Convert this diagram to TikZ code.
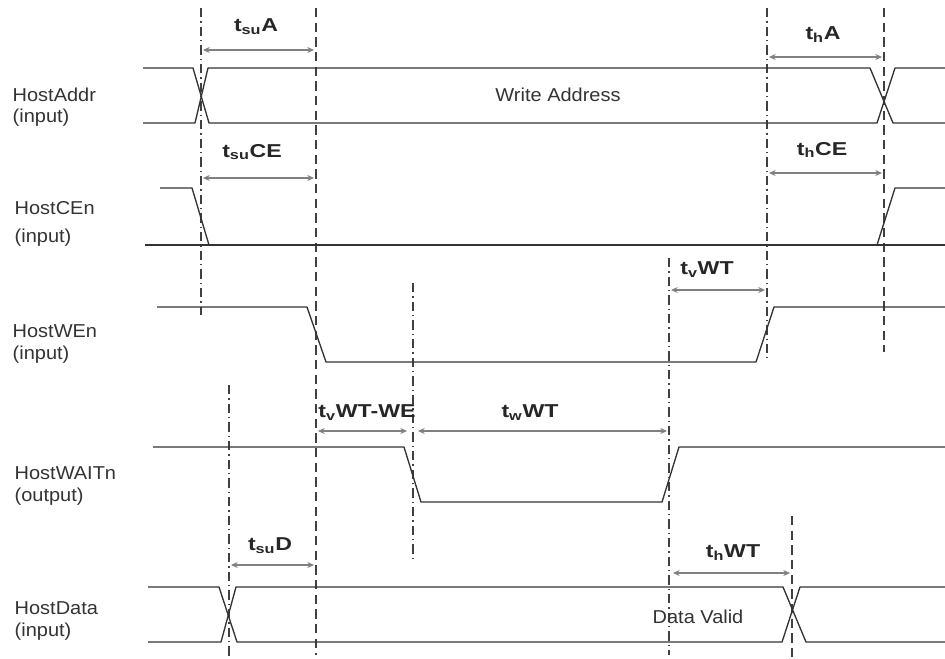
\documentclass[tikz,border=0pt]{standalone}
\usepackage{fontspec}
\setmainfont{Liberation Sans}[FakeStretch=1.07]
\newfontfamily\timefont{Liberation Sans}[FakeStretch=1.24]
\usetikzlibrary{arrows.meta}

\begin{document}
\begin{tikzpicture}[x=0.75pt,y=-0.75pt,>=Stealth,line join=round]
        \tikzstyle{sig}=[draw=black!80,line width=1pt]
        \tikzstyle{guide}=[draw=black!75,line width=1pt,dash pattern=on 7pt off 4pt]
        \tikzstyle{guidedot}=[guide,dash pattern=on 7pt off 3pt on 1pt off 3pt]
        \tikzstyle{dim}=[draw=black!50,line width=1.1pt,{Stealth[length=5pt,width=4.5pt]}-{Stealth[length=5pt,width=4.5pt]}]
        \tikzstyle{tlabel}=[font=\timefont\fontsize{14}{16}\selectfont\bfseries,text=black!85]
        \tikzstyle{siglabel}=[anchor=west,align=left,font=\fontsize{14}{16}\selectfont,text=black!80]
        \useasboundingbox (0,0) rectangle (945,659);
        % signal names
        \node[siglabel] (addr) at (8,107) {HostAddr\\(input)};
        \node[siglabel] (cen) at (10,224) {HostCEn\\[5pt](input)};
        \node[siglabel] (wen) at (8,344) {HostWEn\\[1pt](input)};
        \node[siglabel] (wait) at (10,486) {HostWAITn\\(output)};
        \node[siglabel] (data) at (10,621) {HostData\\(input)};
        % guide lines
        \draw[guidedot] (201,8) -- (201,315);
        \draw[guide] (316,8) -- (316,655);
        \draw[guidedot] (767,8) -- (767,358);
        \draw[guide] (884,8) -- (884,352);
        \draw[guidedot] (413,283) -- (413,560);
        \draw[guidedot] (229,385) -- (229,659);
        \draw[guidedot] (669,258) -- (669,655);
        \draw[guide] (792,516) -- (792,659);
        % HostAddr
        \draw[sig] (143,68) -- (193,68) -- (209,123) -- (877,123) -- (895,68) -- (945,68);
        \draw[sig] (143,123) -- (195,123) -- (208,68) -- (870,68) -- (893,123) -- (945,123);
        \node[font=\fontsize{14}{16}\selectfont,text=black!80] (wa) at (558,95) {Write Address};
        % HostCEn
        \draw[sig] (160,188) -- (192,188) -- (209,245);
        \draw[sig] (145,245) -- (945,245);
        \draw[sig] (877,245) -- (895,188) -- (945,188);
        % HostWEn
        \draw[sig] (157,307) -- (307,307) -- (326,362) -- (756,362) -- (774,307) -- (945,307);
        % HostWAITn
        \draw[sig] (153,447) -- (404,447) -- (421,502) -- (662,502) -- (679,447) -- (945,447);
        % HostData
        \draw[sig] (148,587) -- (219,587) -- (237,642) -- (782,642) -- (800,587) -- (945,587);
        \draw[sig] (148,642) -- (221,642) -- (236,587) -- (783,587) -- (806,642) -- (945,642);
        \node[font=\fontsize{14}{16}\selectfont,text=black!80] (dv) at (698,617) {Data Valid};
        % timing
        \draw[dim] (203,50) -- (314,50);
        \node[tlabel] (tsua) at (256,27) {t\textsubscript{su}A};
        \draw[dim] (203,178) -- (314,178);
        \node[tlabel] (tsuce) at (252,152) {t\textsubscript{su}CE};
        \draw[dim] (769,57) -- (882,57);
        \node[tlabel] (tha) at (823,35) {t\textsubscript{h}A};
        \draw[dim] (769,173) -- (882,173);
        \node[tlabel] (thce) at (822,150) {t\textsubscript{h}CE};
        \draw[dim] (671,290) -- (765,290);
        \node[tlabel] (tvwt) at (707,270) {t\textsubscript{v}WT};
        \draw[dim] (318,431) -- (407,431);
        \node[tlabel] (tvwtwe) at (367,413) {t\textsubscript{v}WT-WE};
        \draw[dim] (418,431) -- (667,431);
        \node[tlabel] (twwt) at (530,413) {t\textsubscript{w}WT};
        \draw[dim] (231,565) -- (314,565);
        \node[tlabel] (tsud) at (270,546) {t\textsubscript{su}D};
        \draw[dim] (673,573) -- (790,573);
        \node[tlabel] (thwt) at (733,553) {t\textsubscript{h}WT};
\end{tikzpicture}
\end{document}
